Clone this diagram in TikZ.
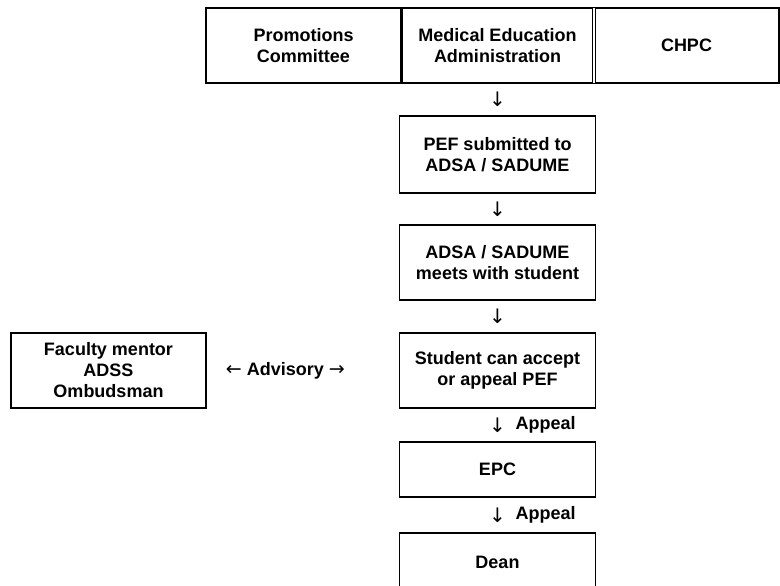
\documentclass[tikz,border=0pt]{standalone}
\usepackage{fontspec}
\setmainfont{Liberation Sans}
\newfontfamily\arrowfont{DejaVu Sans}
\usepackage{tikz}
\usetikzlibrary{positioning}

\begin{document}
\begin{tikzpicture}[x=1pt, y=-1pt, node distance=33pt, thick,
    box/.style={draw, line width=1.5pt, outer sep=0pt, inner sep=2pt, align=center, minimum width=196pt},
    lbl/.style={inner sep=0pt},
    every node/.style={font=\fontsize{18}{21}\selectfont\bfseries}]
        \useasboundingbox (0,0) rectangle (780,586);
        \clip (0,0) rectangle (780,586);
        % top table
        \node[box, minimum width=195pt, minimum height=75pt] (promo) at (303.5,45.5) {Promotions\\Committee};
        \node[box, minimum width=193pt, minimum height=75pt, right=0pt of promo] (medadmin) {Medical Education\\Administration};
        \node[box, minimum width=185pt, minimum height=75pt, right=0pt of medadmin] (chpc) {CHPC};
        \draw[line width=3pt] (promo.north east) -- (promo.south east);
        \draw[line width=0.8pt, double, double distance=1.6pt] (chpc.north west) -- (chpc.south west);
        % appeal chain
        \node[box, minimum height=77pt, below=of medadmin] (pefsubmit) {PEF submitted to\\ADSA / SADUME};
        \node[box, minimum height=75pt, below=32pt of pefsubmit] (adsameets) {ADSA / SADUME\\meets with student};
        \node[box, minimum height=75pt, below=of adsameets] (acceptappeal) {Student can accept\\or appeal PEF};
        \node[box, minimum height=55pt, below=34pt of acceptappeal] (epc) {EPC};
        \node[box, minimum height=58pt, below=36pt of epc] (dean) {Dean};
        \node[box, minimum width=195pt, minimum height=75pt, inner sep=0pt] (mentor) at (108.5,370.5) {Faculty mentor\\ADSS\\Ombudsman};
        \path (medadmin) -- node[lbl] {\arrowfont\mdseries\fontsize{20}{21}\selectfont ↓} (pefsubmit);
        \path (pefsubmit) -- node[lbl] {\arrowfont\mdseries\fontsize{20}{21}\selectfont ↓} (adsameets);
        \path (adsameets) -- node[lbl] {\arrowfont\mdseries\fontsize{20}{21}\selectfont ↓} (acceptappeal);
        \path (acceptappeal) -- node[lbl] (appealone) {\arrowfont\mdseries\fontsize{20}{21}\selectfont ↓} (epc);
        \path (epc) -- node[lbl] (appealtwo) {\arrowfont\mdseries\fontsize{20}{21}\selectfont ↓} (dean);
        \node[lbl, right=9pt of appealone] {Appeal};
        \node[lbl, right=9pt of appealtwo] {Appeal};
        \path (mentor) -- node[lbl, pos=0.41] {{\arrowfont\mdseries\fontsize{19}{21}\selectfont ←} Advisory {\arrowfont\mdseries\fontsize{19}{21}\selectfont →}} (acceptappeal);
    \end{tikzpicture}
\end{document}
